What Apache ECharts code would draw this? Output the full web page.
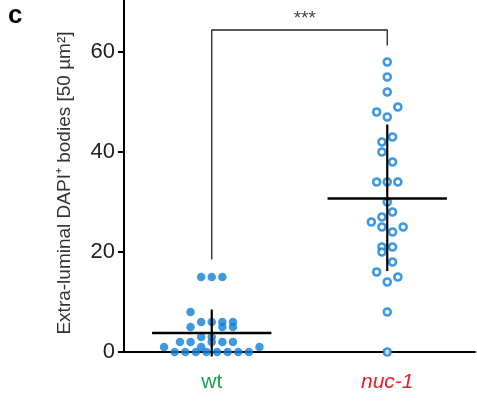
<!DOCTYPE html>
<html>
<head>
<meta charset="utf-8">
<style>
html, body { margin: 0; padding: 0; background: #fff; }
#chart { width: 477px; height: 402px; }
</style>
<script src="https://cdn.jsdelivr.net/npm/echarts@6/dist/echarts.min.js"></script>
</head>
<body>
<div id="chart"></div>
<script>
var categories = ['wt', 'nuc-1'];
var yTicks = [0, 20, 40, 60];

// wt counts, with horizontal jitter in dot steps
var wtValues = [15, 15, 15, 8, 6, 6, 6, 6, 5, 5, 5, 3, 3, 2, 2, 2, 2, 2, 1, 1, 1, 0, 0, 0, 0, 0, 0, 0, 0];
var wtJitter = [-1, 0, 1, -2, -1, 0, 1, 2, -2, 1, 2, -1, 0, -3, -2, 0, 1, 2, -4.5, -1, 4.5, -3.5, -2.5, -1.5, -0.5, 0.5, 1.5, 2.5, 3.5];

// nuc-1 counts
var nucValues = [58, 55, 52, 49, 48, 47, 43, 42, 40, 38, 34, 34, 34, 30, 28, 27, 26, 25, 25, 24, 21, 21, 20, 18, 16, 15, 14, 8, 0];
var nucJitter = [0, 0, 0, 1, -1, 0, 0.5, -0.5, -0.5, 0.5, -1, 0, 1, 0, 0.5, -0.5, -1.5, -0.5, 1.5, 0.5, -0.5, 0.5, -0.5, 0.5, -1, 1, 0, 0, 0];

var means = [3.8, 30.7];
var sdLow = [-0.9, 16.2];
var sdHigh = [8.5, 45.5];

// significance bracket: left end, top, right end
var bracket = [18.5, 64.4, 61.3];
var sigLabel = '***';

var step = 0.0604;     // jitter step in category units
var halfMean = 0.34;   // half width of mean bar

function points(vals, jit, center) {
	var out = [];
	for (var i = 0; i < vals.length; i++) {
		out.push([center + jit[i] * step, vals[i]]);
	}
	return out;
}

var myChart = echarts.init(document.getElementById('chart'));

var series = [{
	type: 'scatter',
	xAxisIndex: 1,
	data: points(wtValues, wtJitter, 0.5),
	symbol: 'circle',
	symbolSize: 8.5,
	itemStyle: { color: '#0f80d8' },
	clip: false,
	z: 2
}, {
	type: 'scatter',
	xAxisIndex: 1,
	data: points(nucValues, nucJitter, 1.5),
	symbol: 'circle',
	symbolSize: 7,
	itemStyle: { color: '#fff', borderColor: '#0f80d8', borderWidth: 2.6 },
	clip: false,
	z: 2
}];

// mean and sd lines
for (var i = 0; i < 2; i++) {
	var c = i + 0.5;
	series.push({
		type: 'line',
		xAxisIndex: 1,
		data: [[c - halfMean, means[i]], [c + halfMean, means[i]]],
		showSymbol: false,
		lineStyle: { color: '#000', width: 2.5 },
		clip: false,
		silent: true,
		z: 5
	});
	series.push({
		type: 'line',
		xAxisIndex: 1,
		data: [[c, sdLow[i]], [c, sdHigh[i]]],
		showSymbol: false,
		lineStyle: { color: '#000', width: 2.2 },
		clip: false,
		silent: true,
		z: 5
	});
}

series.push({
	type: 'line',
	xAxisIndex: 1,
	data: [[0.5, bracket[0]], [0.5, bracket[1]], [1.5, bracket[1]], [1.5, bracket[2]]],
	showSymbol: false,
	lineStyle: { color: '#222', width: 1.3 },
	clip: false,
	silent: true,
	z: 5
});

series.push({
	type: 'scatter',
	xAxisIndex: 1,
	data: [[1.03, bracket[1] + 2.2]],
	symbolSize: 0,
	label: {
		show: true,
		formatter: sigLabel,
		color: '#111',
		fontSize: 19,
		fontFamily: 'Liberation Sans'
	},
	silent: true
});

var option = {
	animation: false,
	grid: { left: 124, right: 2, top: 0, bottom: 50 },
	xAxis: [{
		type: 'category',
		data: categories,
		boundaryGap: true,
		axisLine: { lineStyle: { color: '#000', width: 2 } },
		axisTick: { alignWithLabel: true, length: 7, lineStyle: { color: '#000', width: 2 } },
		axisLabel: {
			margin: 20,
			formatter: function(v) {
				return v == 'wt' ? '{wt|' + v + '}' : '{nuc|' + v + '}';
			},
			rich: {
				wt: { color: '#1ea04c', fontSize: 21, fontFamily: 'Liberation Sans' },
				nuc: { color: '#e8202a', fontSize: 21, fontStyle: 'italic', fontFamily: 'Liberation Sans' }
			}
		},
		splitLine: { show: false }
	}, {
		type: 'value',
		min: 0,
		max: 2,
		show: false
	}],
	yAxis: {
		type: 'value',
		min: 0,
		max: 70.4,
		name: 'Extra-luminal DAPI\u207A bodies [50 \u00B5m\u00B2]',
		nameLocation: 'middle',
		nameGap: 50,
		nameTextStyle: { color: '#333', fontSize: 19, fontFamily: 'Liberation Sans', padding: [0, 14, 0, 0] },
		axisLine: { show: true, lineStyle: { color: '#000', width: 2 } },
		axisTick: { show: true, length: 6, customValues: yTicks, lineStyle: { color: '#000', width: 2 } },
		axisLabel: { customValues: yTicks, margin: 9, color: '#222', fontSize: 22, fontFamily: 'Liberation Sans' },
		splitLine: { show: false }
	},
	graphic: [{
		type: 'text',
		left: 8,
		top: 3,
		style: { text: 'c', fontSize: 26, fontWeight: 'bold', fill: '#000', fontFamily: 'Liberation Sans' }
	}],
	series: series
};
myChart.setOption(option);
</script>
</body>
</html>
